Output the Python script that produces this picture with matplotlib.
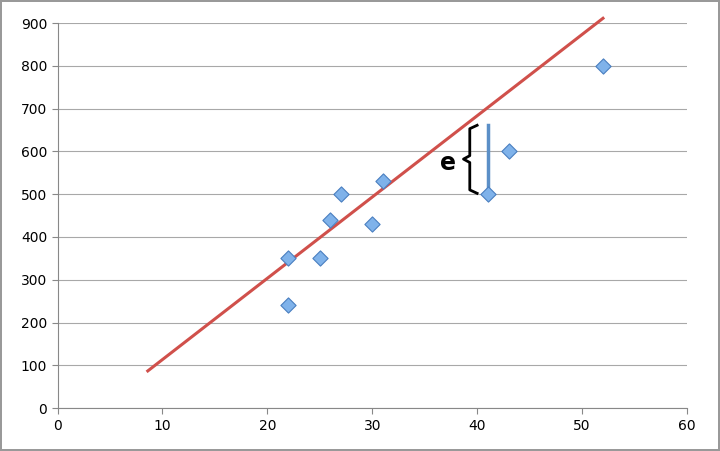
import matplotlib
matplotlib.use("Agg")
import matplotlib.pyplot as plt

x_vals = [22, 22, 25, 26, 27, 30, 31, 41, 43, 52]
y_vals = [350, 240, 350, 440, 500, 430, 530, 500, 600, 800]
line_x = [8.6, 52.0]
line_y = [87, 911]
resid_x = 41
resid_y = [500, 662]

fig = plt.figure(figsize=(7.2, 4.51), dpi=100)
fig.patch.set_edgecolor("#999999")
fig.patch.set_linewidth(1.5)
ax = fig.add_axes([0.08, 0.095, 0.874, 0.854])
ax.set_xlim(0, 60)
ax.set_ylim(0, 900)
ax.set_xticks(range(0, 61, 10))
ax.set_yticks(range(0, 901, 100))
ax.grid(axis="y", color="#a8a8a8", linewidth=0.8)
ax.set_axisbelow(True)
for s in ["top", "right"]:
    ax.spines[s].set_visible(False)
for s in ["left", "bottom"]:
    ax.spines[s].set_color("#888888")
ax.tick_params(axis="both", labelsize=10, length=4, color="#888888")

ax.plot(line_x, line_y, color="#d0504b", linewidth=2.2, zorder=3, clip_on=False)
ax.plot([resid_x, resid_x], resid_y, color="#5b8fc7", linewidth=2.5, zorder=3)
ax.scatter(x_vals, y_vals, marker="D", s=60, facecolor="#7fb2ea",
           edgecolor="#4a7fc0", linewidth=0.8, zorder=4)

# brace
bx, top, bot, mid = 39.3, 661, 502, 582
ax.plot([bx + 0.7, bx, bx, bx - 0.6, bx, bx, bx + 0.7],
        [top, top - 8, mid + 8, mid, mid - 8, bot + 8, bot],
        color="black", linewidth=2, zorder=5, solid_joinstyle="round")
ax.text(37.2, 572, "e", fontsize=17, fontweight="bold", ha="center", va="center")

fig.savefig("out.png", dpi=100)
